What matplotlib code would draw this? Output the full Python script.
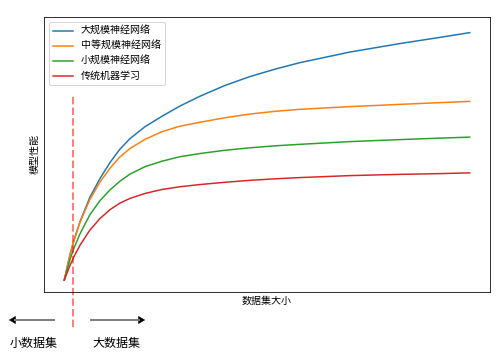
import matplotlib
matplotlib.use("Agg")
import matplotlib.pyplot as plt
from matplotlib.lines import Line2D

plt.rcParams['font.family'] = ['Noto Sans CJK SC', 'DejaVu Sans']

# Data (arbitrary units)
data_size = [0, 1.4, 2.4, 3.9, 6.3, 8.8, 11.3, 13.7, 16.2, 19.9, 24.1, 28.5,
             33.5, 39.6, 45.8, 52.0, 58.1, 70.5, 82.8, 92.7, 100]
large_nn = [0, 10.2, 16.1, 23.6, 33.3, 40.9, 47.4, 52.7, 57.0, 61.8, 66.0, 70.1,
            74.1, 78.4, 82.0, 85.0, 87.6, 91.9, 95.3, 97.8, 99.7]
medium_nn = [0, 10.2, 16.1, 23.4, 32.4, 39.5, 45.1, 49.6, 53.0, 56.7, 59.8, 62.0,
             63.6, 65.4, 66.9, 68.0, 68.8, 69.9, 70.8, 71.5, 72.0]
small_nn = [0, 8.2, 12.9, 18.7, 26.3, 32.0, 36.4, 39.8, 42.7, 45.7, 47.9, 49.7,
            51.0, 52.3, 53.3, 54.1, 54.7, 55.8, 56.6, 57.2, 57.6]
traditional_ml = [0, 5.8, 9.5, 14.1, 20.1, 24.8, 28.4, 31.0, 32.9, 34.9, 36.5, 37.6,
                  38.5, 39.4, 40.2, 40.8, 41.3, 42.1, 42.6, 42.9, 43.2]
series_labels = ['大规模神经网络', '中等规模神经网络', '小规模神经网络', '传统机器学习']
threshold_x = 2.27

W, H = 503, 363
fig = plt.figure(figsize=(W / 72, H / 72), dpi=72)
ax = fig.add_axes([44 / W, 1 - 292 / H, (490 - 44) / W, (292 - 17) / H])

for ys, lab in zip([large_nn, medium_nn, small_nn, traditional_ml], series_labels):
    ax.plot(data_size, ys, lw=1.5, label=lab, solid_joinstyle='round')

ax.plot([threshold_x, threshold_x], [73.7, -20.2], ls='--', color='red', alpha=0.5,
        lw=2, clip_on=False)

ax.set_xlim(-5, 105)
ax.set_ylim(-4.8, 106)
ax.set_xticks([])
ax.set_yticks([])
ax.set_xlabel('数据集大小', fontsize=10, labelpad=4)
ax.set_ylabel('模型性能', fontsize=10, labelpad=4)
ax.legend(loc='upper left', fontsize=10)

# arrows below the axes (figure pixels, origin bottom-left)
ypix = H - 320
for start, end in [((54, ypix), (9, ypix)), ((91, ypix), (145, ypix))]:
    direction = 1 if end[0] > start[0] else -1
    shaft_end = end[0] - direction * 6
    fig.add_artist(Line2D([start[0] / W, shaft_end / W], [ypix / H, ypix / H],
                          color='gray', lw=2, transform=fig.transFigure))
    ax.annotate('', xy=end, xytext=(shaft_end - direction * 1, ypix),
                xycoords='figure pixels', textcoords='figure pixels',
                arrowprops=dict(arrowstyle='-|>,head_length=0.5,head_width=0.3',
                                facecolor='black', edgecolor='black', lw=0.5,
                                shrinkA=0, shrinkB=0, mutation_scale=12))

fig.text(10 / W, 1 - 343 / H, '小数据集', fontsize=12, va='center', ha='left')
fig.text(92 / W, 1 - 343 / H, '大数据集', fontsize=12, va='center', ha='left')

fig.savefig('out.png', dpi=72)
